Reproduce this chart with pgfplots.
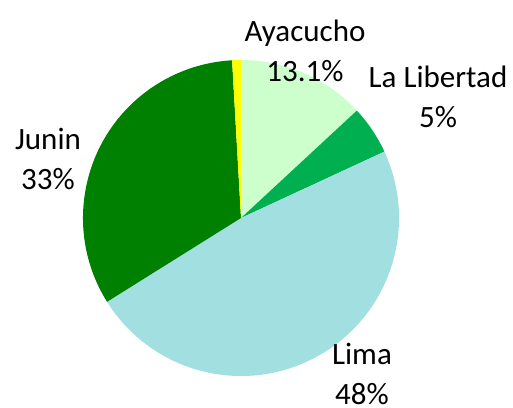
\documentclass[border=0pt]{standalone}
\usepackage{pgfplots}
\pgfplotsset{compat=1.18}
\usepackage{pgfplotstable}
\usepackage{fontspec}
\setmainfont{Carlito}
\definecolor{cAya}{HTML}{CCFFCC}
\definecolor{cLib}{HTML}{00B050}
\definecolor{cLima}{HTML}{A1DFE0}
\definecolor{cJun}{HTML}{008000}
\definecolor{cYel}{HTML}{FFFF00}
\tikzset{lbl/.style={font=\fontsize{31bp}{40bp}\selectfont, align=center, text=black, inner sep=0pt}}
\pgfplotstableread{
name value
Ayacucho 13.1
LaLibertad 5
Lima 48
Junin 33
Otros 0.9
}\piedata
\begin{document}
\begin{tikzpicture}
\begin{axis}[
  x=1bp, y=1bp, disabledatascaling,
  xmin=-241, xmax=272, ymin=-189, ymax=218,
  hide axis, clip=false,
]
\pgfplotsextra{
  \gdef\cum{0}
  \foreach \i/\col in {0/cAya,1/cLib,2/cLima,3/cJun,4/cYel}{
    \pgfplotstablegetelem{\i}{value}\of\piedata
    \let\v\pgfplotsretval
    \pgfmathsetmacro\aS{90-3.6*\cum}
    \pgfmathsetmacro\aE{90-3.6*(\cum+\v)}
    \pgfmathsetmacro\xS{158*cos(\aS)}
    \pgfmathsetmacro\yS{158*sin(\aS)}
    \fill[\col] (axis cs:0,0) -- (axis cs:\xS,\yS) arc[start angle=\aS, end angle=\aE, radius=158bp] -- cycle;
    \pgfmathsetmacro\newcum{\cum+\v}
    \global\let\cum\newcum
  }
}
\node[lbl] at (axis cs:64,167) {Ayacucho\\13.1\%};
\node[lbl] at (axis cs:197,121) {La Libertad\\5\%};
\node[lbl] at (axis cs:121,-156) {Lima\\48\%};
\node[lbl] at (axis cs:-193,59) {Junin\\33\%};
\coordinate (bl) at (axis cs:-241,-189);
\coordinate (tr) at (axis cs:272,218);
\end{axis}
\pgfresetboundingbox
\path[use as bounding box] (bl) rectangle (tr);
\end{tikzpicture}
\end{document}
